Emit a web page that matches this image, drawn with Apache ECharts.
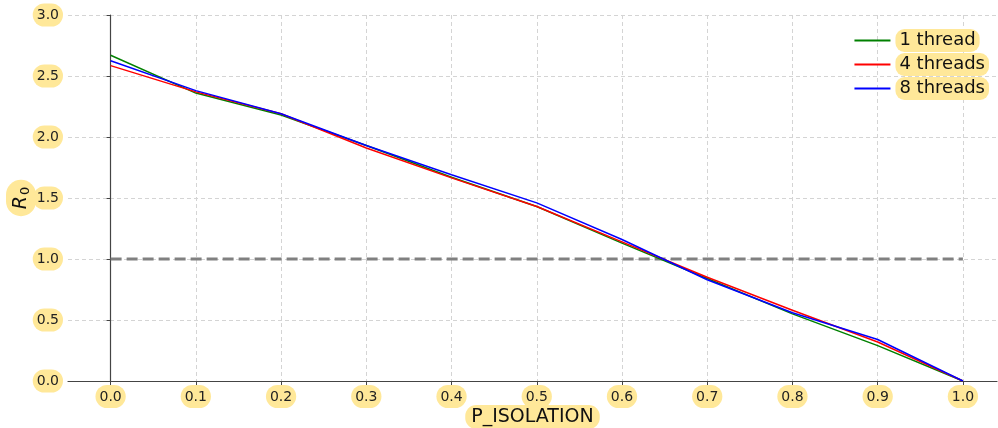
<!DOCTYPE html>
<html>
<head>
<meta charset="utf-8">
<script src="https://cdn.jsdelivr.net/npm/echarts@6/dist/echarts.min.js"></script>
<style>
  html, body { margin: 0; padding: 0; background: #fff; }
  #chart { width: 998px; height: 428px; }
</style>
</head>
<body>
<div id="chart"></div>
<script>
"use strict";

// P_ISOLATION values on the x axis
const xValues = [0.0, 0.1, 0.2, 0.3, 0.4, 0.5, 0.6, 0.7, 0.8, 0.9, 1.0];
const xTicks = [0, 0.1, 0.2, 0.3, 0.4, 0.5, 0.6, 0.7, 0.8, 0.9, 1.0];

// R0
const oneThread = [2.67, 2.36, 2.18, 1.93, 1.67, 1.43, 1.13, 0.84, 0.55, 0.29, 0.0];
const fourThreads = [2.585, 2.37, 2.19, 1.91, 1.665, 1.43, 1.14, 0.85, 0.58, 0.32, 0.0];
const eightThreads = [2.625, 2.38, 2.19, 1.93, 1.69, 1.46, 1.16, 0.83, 0.56, 0.34, 0.0];

// threshold R0 = 1
const thresholdX = [0.0, 1.0];
const thresholdY = [1.0, 1.0];

const FONT = "DejaVu Sans";
const HILITE = "#ffe899";

function pairs(xs, ys) {
  return xs.map((x, i) => [x, ys[i]]);
}

function lineSeries(name, color, values) {
  return {
    name,
    type: "line",
    data: pairs(xValues, values),
    showSymbol: false,
    symbol: "none",
    lineStyle: { color, width: 1.5 },
    itemStyle: { color },
    z: 3
  };
}

const labelBox = {
  backgroundColor: HILITE,
  borderRadius: 12,
  padding: [5, 4, 4, 4],
  color: "#222",
  fontFamily: FONT,
  fontSize: 14
};

const chart = echarts.init(document.getElementById("chart"), null, {
  renderer: "canvas"
});

chart.setOption({
  animation: false,
  grid: {
    left: 68,
    right: 1,
    top: 15,
    bottom: 47,
    containLabel: false,
    outerBoundsMode: "none"
  },
  legend: {
    orient: "vertical",
    right: 4,
    top: 24,
    itemGap: 1,
    itemWidth: 36,
    itemHeight: 2,
    icon: "rect",
    data: ["1 thread", "4 threads", "8 threads"],
    textStyle: {
      fontFamily: FONT,
      fontSize: 18,
      color: "#111",
      backgroundColor: HILITE,
      borderRadius: 9,
      padding: [3, 4, 2, 4]
    }
  },
  xAxis: {
    type: "value",
    min: -0.05,
    max: 1.04,
    name: "P_ISOLATION",
    nameLocation: "middle",
    nameGap: 24,
    nameMoveOverlap: false,
    nameTextStyle: {
      fontFamily: FONT,
      fontSize: 19,
      color: "#111",
      backgroundColor: HILITE,
      borderRadius: 11,
      padding: [3, 6, 2, 6]
    },
    axisLine: { lineStyle: { color: "#444", width: 1.2 } },
    axisTick: {
      customValues: xTicks,
      length: 4,
      lineStyle: { color: "#444" }
    },
    axisLabel: Object.assign(
      {
        customValues: xTicks,
        margin: 4,
        formatter: v => v.toFixed(1)
      },
      labelBox
    ),
    splitLine: {
      show: true,
      lineStyle: { color: "#d4d4d4", type: [4, 3] }
    }
  },
  yAxis: {
    type: "value",
    min: 0,
    max: 3,
    interval: 0.5,
    name: "{r|R}{s|0}",
    nameLocation: "middle",
    nameRotate: 90,
    nameGap: 32,
    nameMoveOverlap: false,
    nameTextStyle: {
      backgroundColor: HILITE,
      borderRadius: 17,
      padding: [5, 7, 4, 7],
      rich: {
        r: { fontFamily: FONT, fontSize: 19, fontStyle: "italic", color: "#111" },
        s: { fontFamily: FONT, fontSize: 13, color: "#111", padding: [8, 0, 0, 1] }
      }
    },
    axisLine: { show: true, lineStyle: { color: "#444", width: 1.2 } },
    axisTick: { show: true, length: 4, lineStyle: { color: "#444" } },
    axisLabel: Object.assign(
      {
        margin: 5,
        formatter: v => v.toFixed(1)
      },
      labelBox
    ),
    splitLine: {
      show: true,
      lineStyle: { color: "#d4d4d4", type: [4, 3] }
    }
  },
  series: [
    {
      name: "threshold",
      type: "line",
      data: pairs(thresholdX, thresholdY),
      symbol: "none",
      lineStyle: { color: "#808080", width: 3, type: [11, 5] },
      z: 2,
      silent: true
    },
    lineSeries("1 thread", "#008000", oneThread),
    lineSeries("4 threads", "#ff0000", fourThreads),
    lineSeries("8 threads", "#0000ff", eightThreads)
  ]
});
</script>
</body>
</html>
